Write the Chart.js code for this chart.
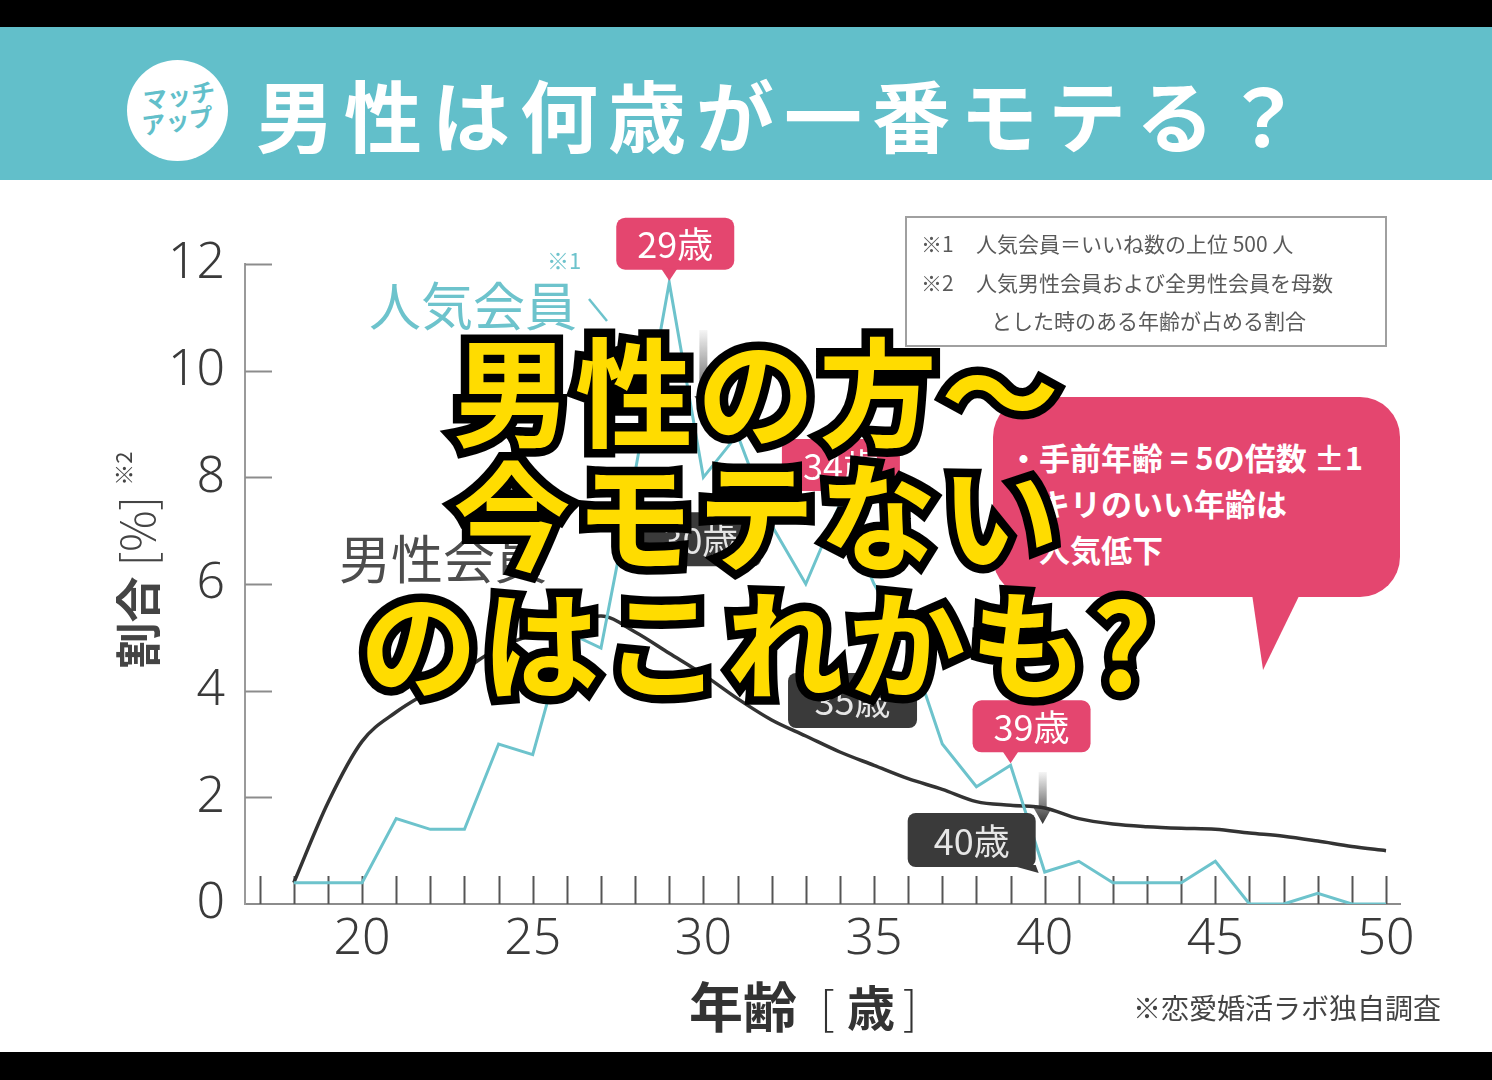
<!DOCTYPE html>
<html>
<head>
<meta charset="utf-8">
<script src="https://cdn.jsdelivr.net/npm/chart.js@4.4.0/dist/chart.umd.min.js"></script>
<style>
html, body { margin: 0; padding: 0; background: #000; }
body { width: 1492px; height: 1080px; position: relative; overflow: hidden; font-family: "Noto Sans CJK JP", "Noto Sans", sans-serif; }
#band { position: absolute; left: 0; top: 27px; width: 1492px; height: 153px; background: #62bfca; }
#paper { position: absolute; left: 0; top: 180px; width: 1492px; height: 872px; background: #fff; }
#logo { position: absolute; left: 127px; top: 60px; width: 101px; height: 101px; border-radius: 50%; background: #fff; color: #62bfca; font-weight: 700; font-size: 24px; line-height: 25px; text-align: center; }
#logo div { transform: rotate(-8deg); }
#title { position: absolute; left: 256px; top: 68px; color: #fff; font-weight: 700; font-size: 78px; line-height: 90px; letter-spacing: 10px; white-space: nowrap; }
#wrap { position: absolute; left: 0; top: 0; }
.lbl { position: absolute; white-space: nowrap; }
#legendBox { position: absolute; left: 905px; top: 216px; width: 478px; height: 127px; border: 2px solid #a0a0a0; color: #5a5a5a; font-size: 21px; }
#legendBox div { position: absolute; white-space: nowrap; line-height: 26px; }
#bubble { position: absolute; left: 993px; top: 397px; width: 407px; height: 200px; border-radius: 40px; background: #e4466f; }
#tail { position: absolute; left: 1252px; top: 594px; width: 48px; height: 76px; background: #e4466f; clip-path: polygon(0 0, 100% 0, 23% 100%); }
#btext { position: absolute; left: 1008px; top: 434px; color: #fff; font-weight: 700; font-size: 31px; line-height: 46px; white-space: nowrap; }
.big { position: absolute; left: 158px; width: 1200px; text-align: center; font-weight: 700; font-size: 118px; line-height: 122px; letter-spacing: 4px; white-space: nowrap; }
.big span { display: block; }
.big .s { position: absolute; left: 0; top: 0; width: 100%; color: #000; -webkit-text-stroke: 17px #000; }
.big .f { position: relative; color: #ffdc00; }
</style>
</head>
<body>
<div id="band"></div>
<div id="paper"></div>
<div id="logo"><div style="padding-top:22px">マッチ</div><div>アップ</div></div>
<div id="title">男性は何歳が一番モテる？</div>

<div id="wrap"><canvas id="myChart" width="1492" height="1080"></canvas></div>

<div class="lbl" style="left:369px;top:274px;font-size:52px;line-height:60px;color:#6dc3cc;">人気会員</div>
<div class="lbl" style="left:547px;top:246px;font-size:22px;line-height:26px;color:#6dc3cc;">※1</div>
<div class="lbl" style="left:339px;top:527px;font-size:52px;line-height:60px;color:#4d4d4d;">男性会員</div>

<div class="lbl" style="left:-5px;top:532px;width:280px;height:56px;transform:rotate(-90deg);color:#444;font-size:46px;line-height:56px;text-align:center;">
  <b>割合</b> <span style="font-weight:300">[%]</span> <span style="font-size:22px;vertical-align:top;line-height:30px">※2</span>
</div>

<div class="lbl" style="left:689px;top:975px;font-size:54px;line-height:60px;color:#333;font-weight:700;">年齢</div>
<div class="lbl" style="left:820px;top:975px;font-size:46px;line-height:60px;color:#333;font-weight:300;">[</div>
<div class="lbl" style="left:847px;top:975px;font-size:48px;line-height:60px;color:#333;font-weight:700;">歳</div>
<div class="lbl" style="left:903px;top:975px;font-size:46px;line-height:60px;color:#333;font-weight:300;">]</div>
<div class="lbl" style="left:1133px;top:990px;font-size:28px;line-height:34px;color:#444;">※恋愛婚活ラボ独自調査</div>

<div id="legendBox">
  <div style="left:14px;top:12px">※1</div>
  <div style="left:69px;top:12px">人気会員＝いいね数の上位 500 人</div>
  <div style="left:14px;top:51px">※2</div>
  <div style="left:69px;top:51px">人気男性会員および全男性会員を母数</div>
  <div style="left:84px;top:89px">とした時のある年齢が占める割合</div>
</div>

<div id="bubble"></div>
<div id="tail"></div>
<div id="btext">・手前年齢 = 5の倍数 ±1<br>・キリのいい年齢は<br>　人気低下</div>

<div class="big" style="top:326px"><span class="s">男性の方～</span><span class="f">男性の方～</span></div>
<div class="big" style="top:450px"><span class="s">今モテない</span><span class="f">今モテない</span></div>
<div class="big" style="top:578px"><span class="s">のはこれかも?</span><span class="f">のはこれかも?</span></div>

<script>
// 年齢 18〜50歳
const ages = [18, 19, 20, 21, 22, 23, 24, 25, 26, 27, 28, 29, 30, 31, 32, 33, 34,
              35, 36, 37, 38, 39, 40, 41, 42, 43, 44, 45, 46, 47, 48, 49, 50];
// 人気会員 (%)
const popular = [0.4, 0.4, 0.4, 1.6, 1.4, 1.4, 3.0, 2.8, 5.1, 4.8, 8.1, 11.65, 8.0, 8.8, 7.1, 6.0, 7.5,
                 6.0, 4.9, 3.0, 2.2, 2.6, 0.6, 0.8, 0.4, 0.4, 0.4, 0.8, 0, 0, 0.2, 0, 0];
// 男性会員 (%)
const allMale = [0.4, 1.9, 3.05, 3.6, 4.0, 4.4, 4.8, 5.05, 5.25, 5.4, 5.1, 4.7, 4.3, 3.85, 3.45, 3.15, 2.85,
                 2.6, 2.35, 2.15, 1.92, 1.85, 1.8, 1.6, 1.5, 1.45, 1.42, 1.4, 1.33, 1.27, 1.18, 1.08, 1.0];

const xTickLabels = [20, 25, 30, 35, 40, 45, 50];
const yTickLabels = [0, 2, 4, 6, 8, 10, 12];
const minorTicks = [17, 18, 19, 20, 21, 22, 23, 24, 25, 26, 27, 28, 29, 30, 31, 32, 33,
                    34, 35, 36, 37, 38, 39, 40, 41, 42, 43, 44, 45, 46, 47, 48, 49, 50];

// 人気の年齢 / 落ち込む年齢
const peakAges = [29, 34, 39];
const peakTags = ['29歳', '34歳', '39歳'];
const dropAges = [30, 35, 40];
const dropTags = ['30歳', '35歳', '40歳'];

const pink = '#e4466f';
const dark = '#3a3a3a';
const teal = '#6dc3cc';

function popPoint(chart, age) {
    const x = chart.scales.x.getPixelForValue(age);
    const y = chart.scales.y.getPixelForValue(popular[ages.indexOf(age)]);
    return [x, y];
}

function tagText(ctx, txt, cx, cy, color) {
    ctx.fillStyle = color;
    ctx.textAlign = 'center';
    ctx.textBaseline = 'middle';
    ctx.font = '400 36px "Noto Sans CJK JP", "Noto Sans", sans-serif';
    ctx.fillText(txt, cx, cy + 1);
}

const decor = {
    id: 'decor',
    beforeDatasetsDraw(chart) {
        const {ctx, scales: {x, y}} = chart;
        ctx.save();
        ctx.lineWidth = 2;
        ctx.strokeStyle = '#8c8c8c';
        yTickLabels.forEach(v => {
            if (v === 0) return;
            const py = Math.round(y.getPixelForValue(v)) + 0.5;
            ctx.beginPath();
            ctx.moveTo(x.left, py);
            ctx.lineTo(x.left + 27, py);
            ctx.stroke();
        });
        ctx.strokeStyle = '#555';
        minorTicks.forEach(a => {
            const px = Math.round(x.getPixelForValue(a)) + 0.5;
            ctx.beginPath();
            ctx.moveTo(px, y.bottom);
            ctx.lineTo(px, y.bottom - 28);
            ctx.stroke();
        });
        ctx.restore();
    },
    afterDatasetsDraw(chart) {
        const {ctx} = chart;
        ctx.save();

        // leader from 人気会員 label
        ctx.strokeStyle = teal;
        ctx.lineWidth = 2.5;
        ctx.beginPath();
        ctx.moveTo(589, 299);
        ctx.lineTo(607, 321);
        ctx.stroke();

        // pink tags on peaks
        const peakShift = [6, 1, 21];
        peakAges.forEach((a, i) => {
            const [px, py] = popPoint(chart, a);
            const w = 118, h = 52;
            const cx = px + peakShift[i];
            const bottom = py - 13;
            ctx.fillStyle = pink;
            ctx.beginPath();
            ctx.roundRect(cx - w / 2, bottom - h, w, h, 9);
            ctx.fill();
            ctx.beginPath();
            ctx.moveTo(px - 8, bottom - 1);
            ctx.lineTo(px + 8, bottom - 1);
            ctx.lineTo(px, py - 2);
            ctx.closePath();
            ctx.fill();
            tagText(ctx, peakTags[i], cx, bottom - h / 2, '#fff');
        });

        // dark tags on drops
        const dropBox = [[-64, 35, 122, 54], [-86, 89, 129, 55], [-137, -59, 128, 54]];
        dropAges.forEach((a, i) => {
            const [px, py] = popPoint(chart, a);
            const [dx, dy, w, h] = dropBox[i];
            const bx = px + dx, by = py + dy;
            ctx.fillStyle = dark;
            ctx.beginPath();
            ctx.roundRect(bx, by, w, h, 8);
            ctx.fill();
            if (i === 2) {
                ctx.beginPath();
                ctx.moveTo(bx + w - 26, by + h - 2);
                ctx.lineTo(bx + w, by + h - 2);
                ctx.lineTo(px - 6, py + 1);
                ctx.closePath();
                ctx.fill();
            }
            tagText(ctx, dropTags[i], bx + w / 2, by + h / 2, '#e6e6e6');
        });

        // dark arrows showing the drop
        const arrows = [[30, 0, 330, 412], [40, -2, 772, 824]];
        arrows.forEach(([a, off, y0, y1]) => {
            const px = chart.scales.x.getPixelForValue(a) + off;
            const g = ctx.createLinearGradient(0, y0, 0, y1);
            g.addColorStop(0, 'rgba(60,60,60,0.05)');
            g.addColorStop(1, 'rgba(40,40,40,0.95)');
            ctx.fillStyle = g;
            ctx.beginPath();
            ctx.moveTo(px - 4, y0);
            ctx.lineTo(px + 4, y0);
            ctx.lineTo(px + 4, y1 - 16);
            ctx.lineTo(px + 9, y1 - 16);
            ctx.lineTo(px, y1);
            ctx.lineTo(px - 9, y1 - 16);
            ctx.lineTo(px - 4, y1 - 16);
            ctx.closePath();
            ctx.fill();
        });
        ctx.restore();
    }
};

const tickFont = {family: '"Noto Sans", "DejaVu Sans", sans-serif', size: 50, weight: 300};

const ctx = document.getElementById('myChart');
const myChart = new Chart(ctx, {
    type: 'line',
    data: {
        datasets: [{
            label: '人気会員',
            data: ages.map((a, i) => ({x: a, y: popular[i]})),
            borderColor: teal,
            borderWidth: 3,
            pointRadius: 0,
            tension: 0
        }, {
            label: '男性会員',
            data: ages.map((a, i) => ({x: a, y: allMale[i]})),
            borderColor: '#333',
            borderWidth: 3.5,
            pointRadius: 0,
            cubicInterpolationMode: 'monotone'
        }]
    },
    options: {
        responsive: false,
        animation: false,
        layout: {
            padding: {left: 0, top: 264, right: 92, bottom: 116}
        },
        plugins: {
            legend: {display: false},
            tooltip: {enabled: false}
        },
        scales: {
            x: {
                type: 'linear',
                min: 16.57,
                max: 50.41,
                afterBuildTicks: s => { s.ticks = xTickLabels.map(v => ({value: v})); },
                afterFit: s => { s.height = 60; },
                grid: {display: false, drawTicks: false},
                border: {display: true, color: '#8c8c8c', width: 2},
                ticks: {padding: 6, color: '#3a3a3a', font: tickFont, maxRotation: 0}
            },
            y: {
                min: 0,
                max: 12,
                afterBuildTicks: s => { s.ticks = yTickLabels.map(v => ({value: v})); },
                afterFit: s => { s.width = 245; },
                grid: {display: false, drawTicks: false},
                border: {display: true, color: '#9a9a9a', width: 2},
                ticks: {padding: 20, color: '#3a3a3a', font: tickFont}
            }
        }
    },
    plugins: [decor]
});
</script>
</body>
</html>
